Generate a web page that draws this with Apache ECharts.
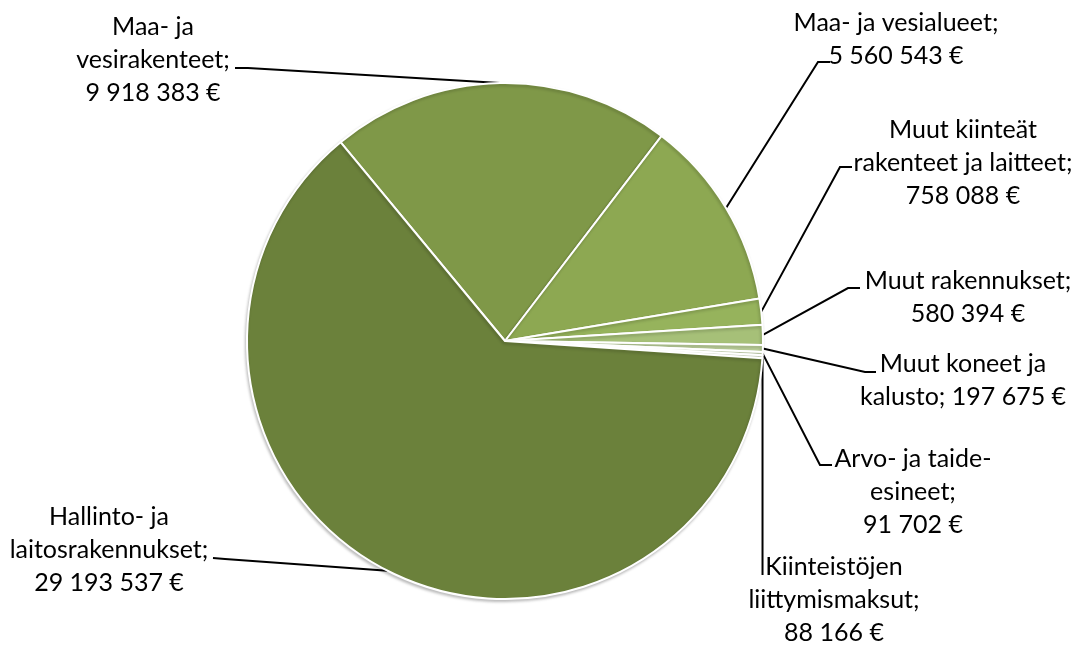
<!DOCTYPE html>
<html><head><meta charset="utf-8">
<script src="https://cdn.jsdelivr.net/npm/echarts@6/dist/echarts.min.js"></script>
<style>html,body{margin:0;padding:0;background:#fff}#c{width:1079px;height:645px}</style>
</head><body><div id="c"></div>
<script>
// ---- data ----
const categories = [
  'Maa- ja vesirakenteet',
  'Maa- ja vesialueet',
  'Muut kiinteät rakenteet ja laitteet',
  'Muut rakennukset',
  'Muut koneet ja kalusto',
  'Arvo- ja taide-esineet',
  'Kiinteistöjen liittymismaksut',
  'Hallinto- ja laitosrakennukset'
];
const values = [9918383, 5560543, 758088, 580394, 197675, 91702, 88166, 29193537];
// wrapped label names as shown in the chart
const labelNames = [
  'Maa- ja\nvesirakenteet;',
  'Maa- ja vesialueet;',
  'Muut kiinteät\nrakenteet ja laitteet;',
  'Muut rakennukset;',
  'Muut koneet ja\nkalusto;',
  'Arvo- ja taide-\nesineet;',
  'Kiinteistöjen\nliittymismaksut;',
  'Hallinto- ja\nlaitosrakennukset;'
];
const valueJoin = ['\n', '\n', '\n', '\n', ' ', '\n', '\n', '\n'];

// ---- style / layout ----
const colors = ['#7F9848', '#8DA852', '#96B35C', '#A6C078', '#BCD09A', '#CFDDB7', '#E0E9D2', '#6B813B'];
// label block centres and leader-line bends/ends (offsets from label centre)
const labelPlace = [
  { x: 153, y: 60,  pts: [[95, 8], [82, 8]] },
  { x: 896, y: 39,  pts: [[-78, 23], [-66, 23]] },
  { x: 963, y: 163, pts: [[-123, 4], [-111, 4]] },
  { x: 968, y: 297, pts: [[-120, -9], [-108, -9]] },
  { x: 963, y: 380, pts: [[-98, -8], [-87, -8]] },
  { x: 913, y: 492, pts: [[-93, -27], [-81, -27]] },
  { x: 834, y: 600, vertical: -25 },
  { x: 109, y: 550, pts: [[116, 9], [104, 8]] }
];

function fmt(v) {
  return String(v).replace(/\B(?=(\d{3})+(?!\d))/g, ' ') + ' €';
}

const chart = echarts.init(document.getElementById('c'), null, { renderer: 'canvas' });
chart.setOption({
  backgroundColor: '#ffffff',
  animation: false,
  series: [{
    type: 'pie',
    center: [505, 341],
    radius: [0, 258],
    startAngle: 129.6,
    clockwise: true,
    avoidLabelOverlap: false,
    data: categories.map((c, i) => ({ name: c, value: values[i], itemStyle: { color: colors[i] } })),
    itemStyle: {
      borderColor: '#ffffff',
      borderWidth: 2,
      shadowBlur: 3,
      shadowColor: 'rgba(0,0,0,0.22)',
      shadowOffsetX: -1,
      shadowOffsetY: 2
    },
    label: {
      show: true,
      position: 'outside',
      formatter: p => labelNames[p.dataIndex] + valueJoin[p.dataIndex] + fmt(p.value),
      fontFamily: 'Lato',
      fontSize: 25,
      lineHeight: 33,
      color: '#000000',
      align: 'center'
    },
    labelLine: {
      show: true,
      length: 10,
      length2: 10,
      lineStyle: { color: '#000000', width: 2 }
    },
    labelLayout: function (params) {
      const pl = labelPlace[params.dataIndex];
      const p0 = params.labelLinePoints ? params.labelLinePoints[0] : null;
      const out = { x: pl.x, y: pl.y, align: 'center', verticalAlign: 'middle' };
      if (p0) {
        if (pl.vertical != null) {
          out.labelLinePoints = [[p0[0], p0[1]], [p0[0], pl.y + pl.vertical]];
        } else {
          out.labelLinePoints = [[p0[0], p0[1]]].concat(pl.pts.map(d => [pl.x + d[0], pl.y + d[1]]));
        }
      }
      return out;
    }
  }]
});
</script>
</body></html>
